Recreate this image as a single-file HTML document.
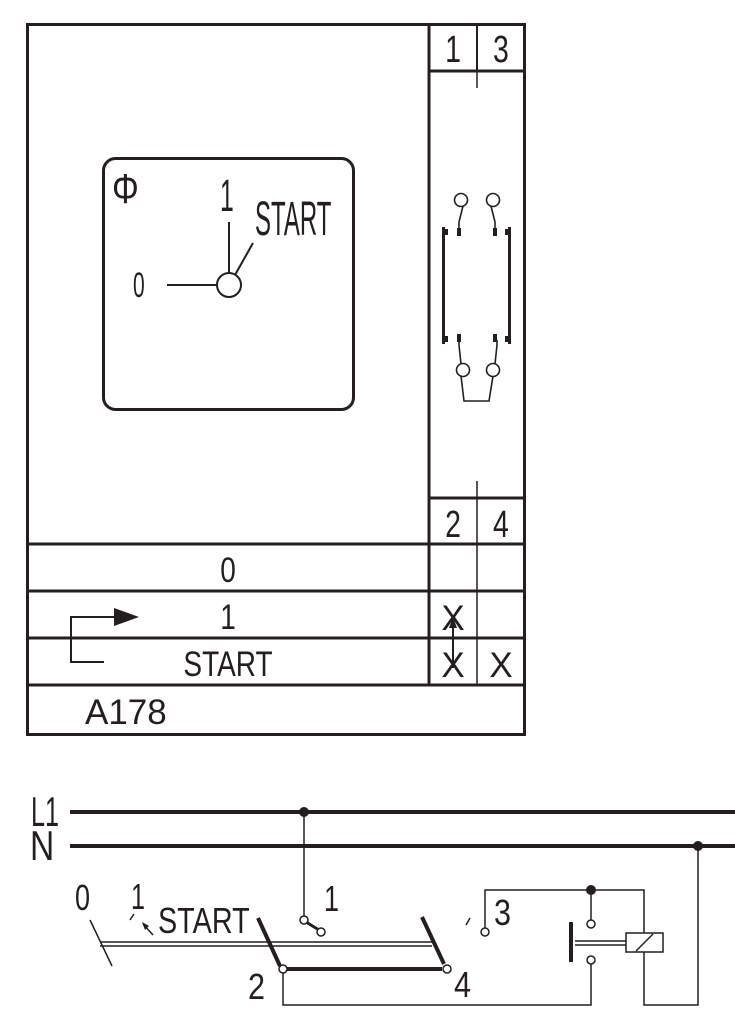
<!DOCTYPE html>
<html><head><style>
html,body{margin:0;padding:0;background:#fff;}
svg{display:block;}
text{font-family:"Liberation Sans",sans-serif;fill:#231f20;}
</style></head><body>
<svg width="735" height="1015" viewBox="0 0 735 1015" xmlns="http://www.w3.org/2000/svg">
<g stroke="#231f20" fill="none" stroke-linecap="butt">
<rect x="27.5" y="24.5" width="497" height="710" stroke-width="3"/>
<line x1="429" y1="24" x2="429" y2="686" stroke-width="3"/>
<line x1="429" y1="71" x2="525" y2="71" stroke-width="3"/>
<line x1="429" y1="498" x2="525" y2="498" stroke-width="3"/>
<line x1="477" y1="24" x2="477" y2="71" stroke-width="2"/>
<line x1="477" y1="71" x2="477" y2="88" stroke-width="1.5"/>
<line x1="477" y1="481" x2="477" y2="686" stroke-width="1.5"/>
<line x1="27" y1="544" x2="525" y2="544" stroke-width="3"/>
<line x1="27" y1="591" x2="525" y2="591" stroke-width="3"/>
<line x1="27" y1="638" x2="525" y2="638" stroke-width="3"/>
<line x1="27" y1="685" x2="525" y2="685" stroke-width="3"/>
<rect x="103.5" y="158.5" width="250" height="251" rx="12" stroke-width="3"/>
<circle cx="229" cy="285" r="12" stroke-width="2"/>
<line x1="167" y1="285" x2="217" y2="285" stroke-width="2"/>
<line x1="229" y1="222" x2="229" y2="273" stroke-width="2"/>
<line x1="235" y1="275" x2="253" y2="243" stroke-width="2"/>
<g stroke-width="1.6">
<circle cx="461" cy="200" r="6.5"/><circle cx="493" cy="200" r="6.5"/>
<path d="M463 206 L459 222 L459 228"/><path d="M491 206 L495 222 L495 228"/>
<circle cx="463" cy="370" r="6.5"/><circle cx="493" cy="370" r="6.5"/>
<path d="M461 364 L459 345 L459 340"/><path d="M495 364 L497 345 L497 340"/>
<path d="M461 376 L464 401 L489 401 L493 376"/>
</g>
<g fill="#231f20" stroke="none">
<rect x="457" y="228" width="4" height="8"/><rect x="493" y="228" width="4" height="8"/>
<rect x="457" y="334" width="4" height="8"/><rect x="493" y="334" width="4" height="8"/>
<rect x="442" y="227" width="3" height="117"/><rect x="445" y="229" width="3" height="6"/><rect x="445" y="336" width="3" height="6"/>
<rect x="508" y="227" width="3" height="117"/><rect x="505" y="229" width="3" height="6"/><rect x="505" y="336" width="3" height="6"/>
</g>
<path d="M104 662 L71 662 L71 617 L114 617" stroke-width="2"/>
<polygon points="114,608 139,617 114,626" fill="#231f20" stroke="none"/>
<line x1="453" y1="622" x2="453" y2="668" stroke-width="2"/>
<polygon points="449,628 453,617 457,628" fill="#231f20" stroke="none"/>
<line x1="70" y1="812" x2="735" y2="812" stroke-width="4"/>
<line x1="70" y1="846" x2="735" y2="846" stroke-width="4"/>
<circle cx="304" cy="812" r="4.5" fill="#231f20"/>
<circle cx="698" cy="846" r="4.5" fill="#231f20"/>
<line x1="306" y1="922" x2="319" y2="930" stroke-width="3"/>
<g stroke-width="1.5">
<line x1="304" y1="812" x2="304" y2="916"/>
<circle cx="304" cy="920" r="4" fill="#fff"/>
<circle cx="321" cy="932" r="4" fill="#fff"/>
<line x1="90" y1="920" x2="112" y2="966"/>
<line x1="130" y1="920" x2="134" y2="914"/>
<line x1="153" y1="935" x2="143" y2="924"/>
<line x1="100" y1="942" x2="432" y2="942"/>
<line x1="100" y1="946" x2="432" y2="946"/>
<path d="M283 973 L283 1005 L591 1005 L591 964"/>
<circle cx="591" cy="960" r="4" fill="#fff"/>
<circle cx="591" cy="924" r="4" fill="#fff"/>
<line x1="591" y1="920" x2="591" y2="890"/>
<path d="M485 928 L485 890 L644 890 L644 1005 L698 1005 L698 846"/>
<circle cx="485" cy="932" r="4" fill="#fff"/>
<line x1="466" y1="925" x2="470" y2="918"/>
<line x1="575" y1="941" x2="626" y2="941"/>
<line x1="575" y1="945" x2="626" y2="945"/>
<rect x="626" y="933" width="37" height="19" fill="#fff"/>
<line x1="636" y1="951" x2="653" y2="934"/>
</g>
<circle cx="591" cy="890" r="4.5" fill="#231f20"/>
<polygon points="149,926 142,922 145,930" fill="#231f20" stroke="none"/>
<line x1="258" y1="918" x2="280" y2="966" stroke-width="4"/>
<line x1="422" y1="917" x2="444" y2="964" stroke-width="4"/>
<line x1="287" y1="969" x2="442" y2="969" stroke-width="4"/>
<circle cx="283" cy="969" r="4" fill="#fff" stroke-width="1.5"/>
<circle cx="447" cy="969" r="4" fill="#fff" stroke-width="1.5"/>
<line x1="571" y1="922" x2="571" y2="962" stroke-width="4"/>
</g>
<g font-size="38" text-anchor="middle">
<text x="453" y="62" transform="translate(453 0) scale(0.75 1) translate(-453 0)">1</text>
<text x="501" y="62" transform="translate(501 0) scale(0.75 1) translate(-501 0)">3</text>
<text x="453" y="537" transform="translate(453 0) scale(0.75 1) translate(-453 0)">2</text>
<text x="501" y="537" transform="translate(501 0) scale(0.75 1) translate(-501 0)">4</text>
</g>
<g font-size="35" text-anchor="middle">
<text x="228" y="582" transform="translate(228 0) scale(0.8 1) translate(-228 0)">0</text>
<text x="228" y="629" transform="translate(228 0) scale(0.8 1) translate(-228 0)">1</text>
<text x="228" y="676" transform="translate(228 0) scale(0.8 1) translate(-228 0)">START</text>
<text x="453" y="630">X</text>
<text x="453" y="677">X</text>
<text x="501" y="677">X</text>
</g>
<text x="85" y="724" font-size="35">A178</text>
<text x="112" y="203" font-size="42" font-family="Liberation Serif" transform="translate(112 0) scale(0.8 1) translate(-112 0)">Φ</text>
<text x="220" y="211" font-size="45" transform="translate(220 0) scale(0.55 1) translate(-220 0)">1</text>
<text x="255" y="235" font-size="48" transform="translate(255 0) scale(0.5 1) translate(-255 0)">START</text>
<text x="133" y="297" font-size="35" transform="translate(133 0) scale(0.6 1) translate(-133 0)">0</text>
<text x="31" y="826" font-size="42" transform="translate(31 0) scale(0.6 1) translate(-31 0)">L1</text>
<text x="30" y="860" font-size="42" transform="translate(30 0) scale(0.8 1) translate(-30 0)">N</text>
<g font-size="36">
<text x="75" y="910" transform="translate(75 0) scale(0.75 1) translate(-75 0)">0</text>
<text x="131" y="909" transform="translate(131 0) scale(0.7 1) translate(-131 0)">1</text>
<text x="158" y="933" transform="translate(158 0) scale(0.8 1) translate(-158 0)">START</text>
<text x="324" y="911" transform="translate(324 0) scale(0.75 1) translate(-324 0)">1</text>
<text x="248" y="999" transform="translate(248 0) scale(0.85 1) translate(-248 0)">2</text>
<text x="454" y="997" transform="translate(454 0) scale(0.85 1) translate(-454 0)">4</text>
<text x="494" y="925" transform="translate(494 0) scale(0.85 1) translate(-494 0)">3</text>
</g>
</svg>
</body></html>
